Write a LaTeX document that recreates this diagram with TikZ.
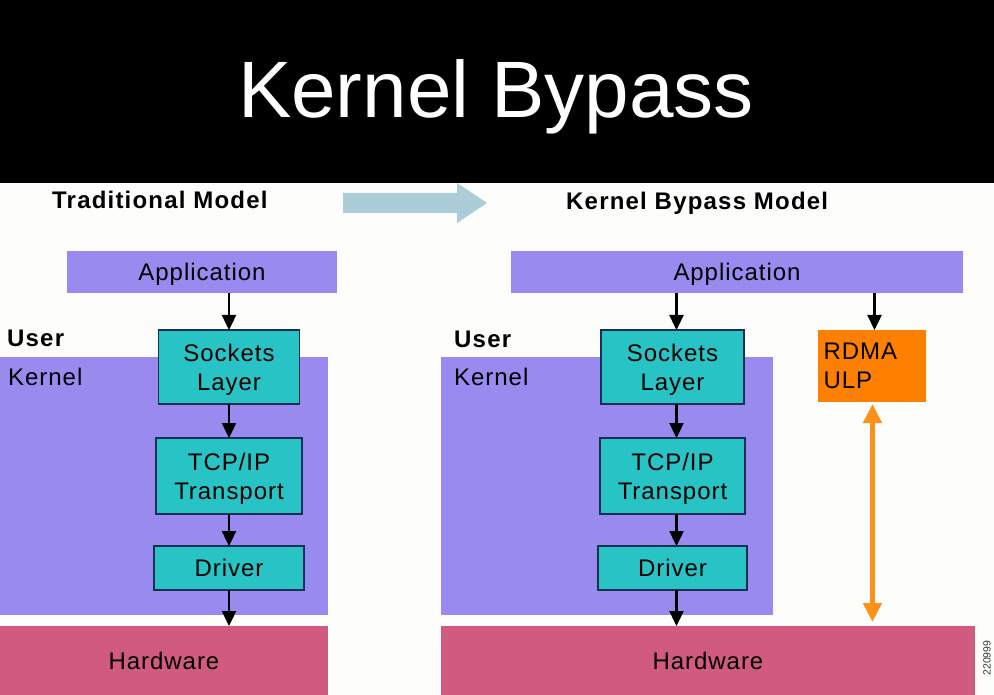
\documentclass[tikz,border=0pt]{standalone}
\usepackage{fontspec}
\setmainfont{Liberation Sans}
\newfontfamily\dfont[LetterSpace=4]{Liberation Sans}
\newfontfamily\hfont[LetterSpace=5]{Liberation Sans}
\usetikzlibrary{arrows.meta}
\definecolor{lav}{RGB}{153,138,240}
\definecolor{cyanbox}{RGB}{40,195,196}
\definecolor{edgecol}{RGB}{25,45,85}
\definecolor{hwcol}{RGB}{209,91,128}
\definecolor{rdmacol}{RGB}{255,128,0}
\definecolor{orangeline}{RGB}{255,145,25}
\definecolor{bluearrow}{RGB}{172,204,216}
\definecolor{bgwhite}{RGB}{253,253,251}
\newcommand\bodyfont{\dfont\fontsize{24}{29}\selectfont}
\newcommand\headfont{\hfont\bfseries\fontsize{24}{28}\selectfont}
\begin{document}
\begin{tikzpicture}[x=1pt,y=-1pt,
  region/.style={fill=lav, draw=none, inner sep=0pt, outer sep=0pt},
  oneline/.style={text height=17.2pt, text depth=0pt},
  appbox/.style={fill=lav, draw=none, inner sep=0pt, outer sep=0pt, font=\bodyfont, oneline},
  box/.style={draw=edgecol, line width=1.6pt, fill=cyanbox, align=center, inner sep=0pt, outer sep=0pt, font=\bodyfont},
  twoline/.style={text depth=0pt},
  hwbox/.style={fill=hwcol, draw=none, inner sep=0pt, outer sep=0pt, font=\bodyfont, oneline},
  rdmabox/.style={fill=rdmacol, draw=none, inner sep=0pt, outer sep=0pt, font=\bodyfont},
  arr/.style={-{Triangle[width=14pt,length=15pt]}, line width=2.4pt, draw=black},
  oarr/.style={{Triangle[width=18pt,length=19pt]}-{Triangle[width=18pt,length=19pt]}, line width=5pt, draw=orangeline},
  lbl/.style={anchor=base west, inner sep=0pt, font=\bodyfont},
  head/.style={anchor=base west, inner sep=0pt, font=\headfont}]
\useasboundingbox (0,0) rectangle (994,695);
% backgrounds
\fill[bgwhite] (0,183) rectangle (994,695);
\fill[black] (0,0) rectangle (994,183);
\node[anchor=base, text=white, inner sep=0pt, font=\fontsize{80}{96}\selectfont] (title) at (496,118) {Kernel Bypass};
% transition arrow
\fill[bluearrow] (343,193) -- (457,193) -- (457,183) -- (487,203) -- (457,223) -- (457,213) -- (343,213) -- cycle;
\node[head] (trad) at (52,209) {Traditional Model};
\node[head] (kbm) at (566,210) {Kernel Bypass Model};
% kernel regions
\node[region, minimum width=328pt, minimum height=258pt] (kern1) at (164,486) {};
\node[region, minimum width=332pt, minimum height=258pt] (kern2) at (607,486) {};
% left model
\node[appbox, minimum width=270pt, minimum height=42pt] (app1) at (202,272) {Application};
\node[box, twoline, minimum width=141pt, minimum height=74pt] (sock1) at (229,367) {Sockets\\Layer};
\node[box, twoline, minimum width=146pt, minimum height=76pt] (tcp1) at (229,476) {TCP/IP\\Transport};
\node[box, oneline, minimum width=150pt, minimum height=44pt] (drv1) at (229,568) {Driver};
\node[hwbox, minimum width=328pt, minimum height=70pt] (hw1) at (164,661) {Hardware};
\node[lbl, font=\headfont] (user1) at (7,346) {User};
\node[lbl] (kernel1) at (8,385) {Kernel};
\draw[arr] (app1.south -| sock1.north) -- (sock1.north);
\draw[arr] (sock1.south) -- (tcp1.north);
\draw[arr] (tcp1.south) -- (drv1.north);
\draw[arr] (drv1.south) -- (drv1.south |- hw1.north);
% right model
\node[appbox, minimum width=452pt, minimum height=42pt] (app2) at (737,272) {Application};
\node[box, twoline, minimum width=143pt, minimum height=74pt] (sock2) at (672.5,367) {Sockets\\Layer};
\node[box, twoline, minimum width=145pt, minimum height=76pt] (tcp2) at (672.5,476) {TCP/IP\\Transport};
\node[box, oneline, minimum width=149pt, minimum height=44pt] (drv2) at (672.5,568) {Driver};
\node[hwbox, minimum width=534pt, minimum height=70pt] (hw2) at (708,661) {Hardware};
\node[rdmabox, minimum width=108pt, minimum height=72pt, text width=96pt, align=left] (rdma) at (871.5,366) {RDMA\\ULP};
\node[lbl, font=\headfont] (user2) at (454,347) {User};
\node[lbl] (kernel2) at (454,385) {Kernel};
\draw[arr] ([xshift=4pt]app2.south -| sock2.north) -- ([xshift=4pt]sock2.north);
\draw[arr] ([xshift=4pt]sock2.south) -- ([xshift=4pt]tcp2.north);
\draw[arr] ([xshift=4pt]tcp2.south) -- ([xshift=4pt]drv2.north);
\draw[arr] ([xshift=4pt]drv2.south) -- ([xshift=4pt]drv2.south |- hw2.north);
\draw[arr] ([xshift=3pt]app2.south -| rdma.north) -- ([xshift=3pt]rdma.north);
\draw[oarr, shorten <=2pt, shorten >=4pt] ([xshift=1pt]rdma.south) -- ([xshift=1pt]rdma.south |- hw2.north);
\node[rotate=90, inner sep=0pt, text=black!80, font=\fontsize{10.5}{12}\selectfont] (code) at (987,658) {220999};
\end{tikzpicture}
\end{document}
